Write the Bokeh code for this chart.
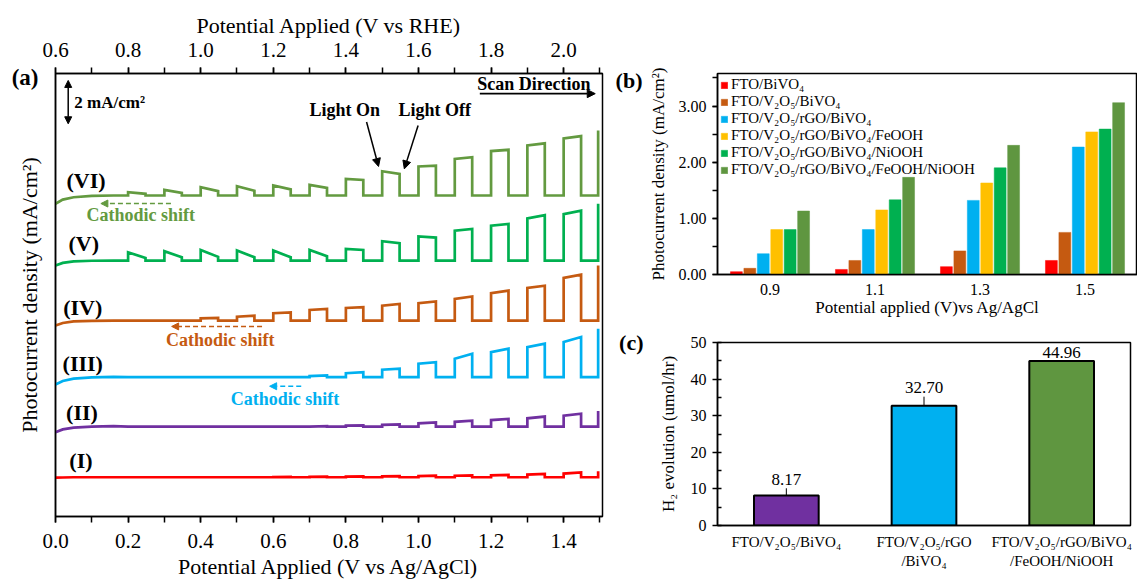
from bokeh.plotting import figure
from bokeh.layouts import row, column
from bokeh.models import (Range1d, LinearAxis, SingleIntervalTicker, FixedTicker,
                          PrintfTickFormatter, Label, Arrow, NormalHead, Legend, LegendItem)
from bokeh.embed import file_html
from bokeh.resources import INLINE
from bokeh.core.properties import value

FONT = "Liberation Serif"

# ---------------- panel (a): chopped LSV traces ----------------
chop_on = [0.2, 0.3, 0.4, 0.5, 0.6, 0.7, 0.8, 0.9, 1.0, 1.1, 1.2, 1.3, 1.4]
chop_len = 0.048
final_x = 1.495
dark_x = [0.0, 0.02, 0.05, 0.10, 0.16]

names_a = ["(I)", "(II)", "(III)", "(IV)", "(V)", "(VI)"]
colors_a = ["#ff0000", "#7030a0", "#00b0f0", "#c55a11", "#00b050", "#639a40"]

dark_I = [1.79, 1.80, 1.81, 1.81, 1.81]
base_I = 1.81
start_I = [0, 0, 0, 0, 0.01, 0.02, 0.03, 0.04, 0.05, 0.07, 0.09, 0.12, 0.17]
end_I = [0, 0, 0, 0, 0.02, 0.03, 0.04, 0.05, 0.07, 0.09, 0.11, 0.15, 0.22]
final_I = 0.28

dark_II = [3.89, 4.02, 4.10, 4.15, 4.17]
base_II = 4.15
start_II = [0, 0, 0, 0, 0, 0, 0.04, 0.08, 0.15, 0.22, 0.30, 0.38, 0.50]
end_II = [0, 0, 0, 0, 0, 0.02, 0.05, 0.10, 0.19, 0.27, 0.35, 0.46, 0.59]
final_II = 0.72

dark_III = [6.09, 6.25, 6.36, 6.42, 6.44]
base_III = 6.43
start_III = [0, 0, 0, 0, 0, 0.05, 0.18, 0.34, 0.62, 0.85, 1.15, 1.38, 1.62]
end_III = [0, 0, 0, 0, 0, 0.08, 0.23, 0.39, 0.69, 1.08, 1.31, 1.54, 1.85]
final_III = 2.23

dark_IV = [8.81, 8.93, 9.00, 9.03, 9.04]
base_IV = 9.04
start_IV = [0, 0, 0.10, 0.18, 0.34, 0.49, 0.58, 0.69, 0.80, 1.00, 1.26, 1.51, 1.97]
end_IV = [0, 0, 0.12, 0.23, 0.38, 0.54, 0.62, 0.77, 0.88, 1.11, 1.38, 1.61, 2.12]
final_IV = 2.54

dark_V = [11.58, 11.70, 11.77, 11.80, 11.81]
base_V = 11.81
start_V = [0.38, 0.43, 0.49, 0.46, 0.46, 0.49, 0.54, 0.89, 1.11, 1.38, 1.61, 1.94, 2.14]
end_V = [0.12, 0.15, 0.17, 0.15, 0.15, 0.20, 0.49, 0.80, 1.06, 1.46, 1.69, 2.09, 2.30]
final_V = 2.62

dark_VI = [14.43, 14.62, 14.73, 14.79, 14.81]
base_VI = 14.81
start_VI = [0.15, 0.26, 0.38, 0.43, 0.46, 0.49, 0.77, 1.12, 1.34, 1.69, 2.05, 2.31, 2.63]
end_VI = [0.08, 0.12, 0.20, 0.22, 0.28, 0.35, 0.72, 1.00, 1.38, 1.77, 2.11, 2.41, 2.74]
final_VI = 3.00

traces = [
    (dark_I, base_I, start_I, end_I, final_I),
    (dark_II, base_II, start_II, end_II, final_II),
    (dark_III, base_III, start_III, end_III, final_III),
    (dark_IV, base_IV, start_IV, end_IV, final_IV),
    (dark_V, base_V, start_V, end_V, final_V),
    (dark_VI, base_VI, start_VI, end_VI, final_VI),
]

# ---------------- panel (b) ----------------
categories_b = ["0.9", "1.1", "1.3", "1.5"]
series_b = ["FTO/BiVO\u2084", "FTO/V\u2082O\u2085/BiVO\u2084", "FTO/V\u2082O\u2085/rGO/BiVO\u2084",
            "FTO/V\u2082O\u2085/rGO/BiVO\u2084/FeOOH", "FTO/V\u2082O\u2085/rGO/BiVO\u2084/NiOOH",
            "FTO/V\u2082O\u2085/rGO/BiVO\u2084/FeOOH/NiOOH"]
colors_b = ["#ff0000", "#c55a11", "#00b0f0", "#ffc000", "#00b050", "#5f9640"]
vals_FTO_BiVO4 = [0.05, 0.09, 0.14, 0.25]
vals_V2O5 = [0.11, 0.25, 0.42, 0.75]
vals_rGO = [0.37, 0.80, 1.32, 2.27]
vals_FeOOH = [0.80, 1.15, 1.63, 2.54]
vals_NiOOH = [0.80, 1.33, 1.90, 2.59]
vals_FeNi = [1.13, 1.73, 2.30, 3.06]
values_b = [vals_FTO_BiVO4, vals_V2O5, vals_rGO, vals_FeOOH, vals_NiOOH, vals_FeNi]

# ---------------- panel (c) ----------------
categories_c = ["FTO/V\u2082O\u2085/BiVO\u2084", "FTO/V\u2082O\u2085/rGO\n/BiVO\u2084",
                "FTO/V\u2082O\u2085/rGO/BiVO\u2084\n/FeOOH/NiOOH"]
h2_values = [8.17, 32.70, 44.96]
h2_errors = [2.0, 2.5, 0.0]
colors_c = ["#7030a0", "#00b0f0", "#5f9640"]


def style_axis(ax, tick_size, label_size):
    ax.axis_line_color = "black"
    ax.axis_line_width = 1.5
    ax.major_tick_line_color = "black"
    ax.minor_tick_line_color = "black"
    ax.major_tick_line_width = 1.5
    ax.minor_tick_line_width = 1.5
    ax.major_tick_in = 0
    ax.minor_tick_in = 0
    ax.major_label_text_font = FONT
    ax.major_label_text_font_size = tick_size
    ax.major_label_text_color = "black"
    ax.axis_label_text_font = FONT
    ax.axis_label_text_font_size = label_size
    ax.axis_label_text_font_style = "normal"
    ax.axis_label_text_color = "black"


def letter_axis(ax, tick, text, standoff, size="22px"):
    # panel letter drawn as the only tick label of a bare axis
    ax.ticker = FixedTicker(ticks=[tick], minor_ticks=[])
    ax.major_label_overrides = {tick: text}
    ax.major_label_text_font = FONT
    ax.major_label_text_font_size = size
    ax.major_label_text_font_style = "bold"
    ax.major_label_text_color = "black"
    ax.major_label_standoff = standoff
    ax.major_tick_out = 0
    ax.major_tick_in = 0
    ax.minor_tick_out = 0
    ax.minor_tick_in = 0
    ax.axis_line_alpha = 0


# ================= figure (a) =================
pa = figure(frame_width=547, frame_height=443, x_range=Range1d(0, 1.507),
            y_range=Range1d(0, 20.44), output_backend="svg", toolbar_location=None,
            min_border_left=55, min_border_right=9, min_border_top=73, min_border_bottom=64)
pa.grid.visible = False
pa.outline_line_color = "black"
pa.outline_line_width = 1.5
pa.outline_line_alpha = 1.0

bx = pa.xaxis[0]
bx.ticker = SingleIntervalTicker(interval=0.2, num_minor_ticks=2)
bx.formatter = PrintfTickFormatter(format="%.1f")
bx.axis_label = "Potential Applied (V vs Ag/AgCl)"
style_axis(bx, "21px", "22px")
bx.major_tick_out = 6
bx.minor_tick_out = 6
bx.major_label_standoff = 11
bx.axis_label_standoff = 3

ly = pa.yaxis[0]
letter_axis(ly, 20.25, "(a)", 17, "23px")
ly.axis_line_alpha = 1
ly.axis_line_color = "black"
ly.axis_line_width = 1.5
ly.axis_label = "Photocurrent density (mA/cm\u00b2)"
ly.axis_label_text_font = FONT
ly.axis_label_text_font_size = "22px"
ly.axis_label_text_font_style = "normal"
ly.axis_label_text_color = "black"
ly.axis_label_standoff = -33

pa.extra_x_ranges = {"rhe": Range1d(0.6, 2.107)}
tx = LinearAxis(x_range_name="rhe", axis_label="Potential Applied (V vs RHE)")
tx.ticker = SingleIntervalTicker(interval=0.2, num_minor_ticks=2)
tx.formatter = PrintfTickFormatter(format="%.1f")
style_axis(tx, "21px", "22px")
tx.major_tick_out = 6
tx.minor_tick_out = 6
tx.major_label_standoff = 11
tx.axis_label_standoff = 2
pa.add_layout(tx, "above")

for (dark, base, st, en, fin), col in zip(traces, colors_a):
    xs = list(dark_x)
    ys = list(dark)
    for c, hs, he in zip(chop_on, st, en):
        xs += [c, c, c + chop_len, c + chop_len]
        ys += [base, base + hs, base + he, base]
    xs += [final_x, final_x]
    ys += [base, base + fin]
    pa.line(xs, ys, line_color=col, line_width=2.7, line_join="miter")


def add_label(p, x, y, text, size, color="black", bold=True, align="center"):
    p.add_layout(Label(x=x, y=y, text=text, text_font=FONT, text_font_size=size,
                       text_font_style="bold" if bold else "normal", text_color=color,
                       text_align=align, text_baseline="middle"))


label_pos = [(0.070, 2.58), (0.073, 4.81), (0.075, 7.05), (0.075, 9.66), (0.078, 12.58), (0.084, 15.51)]
for (lx, lyy), name in zip(label_pos, names_a):
    add_label(pa, lx, lyy, name, "22px")

# scale bar
pa.add_layout(Arrow(x_start=0.035, y_start=18.12, x_end=0.035, y_end=20.12,
                    start=NormalHead(size=7, fill_color="black", line_color="black"),
                    end=NormalHead(size=7, fill_color="black", line_color="black"),
                    line_color="black", line_width=1.5))
add_label(pa, 0.052, 19.1, "2 mA/cm\u00b2", "17px", align="left")

# scan direction
add_label(pa, 1.318, 19.94, "Scan Direction", "18px")
pa.add_layout(Arrow(x_start=1.169, y_start=19.51, x_end=1.487, y_end=19.51,
                    end=NormalHead(size=8, fill_color="black", line_color="black"),
                    line_color="black", line_width=1.8))

# light on / off
add_label(pa, 0.797, 18.77, "Light On", "18px")
add_label(pa, 1.045, 18.74, "Light Off", "18px")
pa.add_layout(Arrow(x_start=0.857, y_start=18.2, x_end=0.890, y_end=16.15,
                    end=NormalHead(size=8, fill_color="black", line_color="black"),
                    line_color="black", line_width=1.5))
pa.add_layout(Arrow(x_start=0.999, y_start=18.04, x_end=0.961, y_end=16.04,
                    end=NormalHead(size=8, fill_color="black", line_color="black"),
                    line_color="black", line_width=1.5))

# cathodic shifts
shifts = [((0.318, 0.125, 14.44), (0.235, 13.89), "#639a40"),
          ((0.569, 0.320, 8.77), (0.454, 8.15), "#c55a11"),
          ((0.677, 0.590, 6.01), (0.632, 5.43), "#00b0f0")]
for (xa, xb, ya), (tx_, ty_), col in shifts:
    pa.add_layout(Arrow(x_start=xa, y_start=ya, x_end=xb, y_end=ya,
                        end=NormalHead(size=7, fill_color=col, line_color=col),
                        line_color=col, line_width=1.5, line_dash="5 3"))
    add_label(pa, tx_, ty_, "Cathodic shift", "18px", color=col)

# ================= figure (b) =================
pb = figure(frame_width=420, frame_height=201, x_range=Range1d(-0.5, 3.5),
            y_range=Range1d(0, 3.58), output_backend="svg", toolbar_location=None,
            min_border_left=106, min_border_right=0, min_border_top=73, min_border_bottom=44)
pb.grid.visible = False
pb.outline_line_color = "black"
pb.outline_line_width = 1.5
pb.outline_line_alpha = 1.0

renderers_b = []
for k, (vals, col) in enumerate(zip(values_b, colors_b)):
    xs = [i + (k - 2.5) * 0.128 for i in range(len(categories_b))]
    r = pb.vbar(x=xs, top=vals, width=0.113, fill_color=col, line_color=col, line_width=0.5)
    renderers_b.append(r)

legend = Legend(items=[LegendItem(label=n, renderers=[r]) for n, r in zip(series_b, renderers_b)],
                location="top_left")
legend.label_text_font = FONT
legend.label_text_font_size = "15px"
legend.label_text_color = "black"
legend.glyph_width = 8
legend.glyph_height = 8
legend.label_height = 15
legend.label_standoff = 3
legend.spacing = 0
legend.padding = 2
legend.margin = 1
legend.border_line_alpha = 0
legend.background_fill_alpha = 0
pb.add_layout(legend)

xb = pb.xaxis[0]
xb.ticker = FixedTicker(ticks=list(range(len(categories_b))))
xb.major_label_overrides = {i: c for i, c in enumerate(categories_b)}
xb.axis_label = "Potential applied (V)vs Ag/AgCl"
style_axis(xb, "16px", "17px")
xb.major_tick_out = 0
xb.minor_tick_out = 0
xb.major_label_standoff = 9
xb.axis_label_standoff = 0

yb = pb.yaxis[0]
yb.ticker = SingleIntervalTicker(interval=1, num_minor_ticks=2)
yb.formatter = PrintfTickFormatter(format="%.2f")
yb.axis_label = "Photocurrent density (mA/cm\u00b2)"
style_axis(yb, "16px", "17px")
yb.major_tick_out = 5
yb.minor_tick_out = 5
yb.major_label_standoff = 6
yb.axis_label_standoff = 8

yb2 = LinearAxis()
letter_axis(yb2, 3.45, "(b)", 3)
pb.add_layout(yb2, "left")

# ================= figure (c) =================
pc = figure(frame_width=413, frame_height=183, x_range=Range1d(-0.5, 2.5),
            y_range=Range1d(0, 50), output_backend="svg", toolbar_location=None,
            min_border_left=106, min_border_right=7, min_border_top=23, min_border_bottom=56)
pc.grid.visible = False
pc.outline_line_color = "black"
pc.outline_line_width = 1.5
pc.outline_line_alpha = 1.0

xc = list(range(len(categories_c)))
pc.vbar(x=xc, top=h2_values, width=0.47, fill_color=colors_c, line_color="black", line_width=2)
err_x = [x for x, e in zip(xc, h2_errors) if e > 0]
err_y0 = [v for v, e in zip(h2_values, h2_errors) if e > 0]
err_y1 = [v + e for v, e in zip(h2_values, h2_errors) if e > 0]
pc.segment(x0=err_x, y0=err_y0, x1=err_x, y1=err_y1, line_color="black", line_width=1)
pc.text(x=xc, y=[v + e + 0.9 for v, e in zip(h2_values, h2_errors)],
        text=["%.2f" % v for v in h2_values], text_font=value(FONT), text_font_size="17px",
        text_align="center", text_baseline="bottom", text_color="black")

xcx = pc.xaxis[0]
xcx.ticker = FixedTicker(ticks=xc)
xcx.major_label_overrides = {i: c for i, c in enumerate(categories_c)}
style_axis(xcx, "15px", "15px")
xcx.major_tick_out = 0
xcx.minor_tick_out = 0
xcx.major_label_standoff = 8

ycx = pc.yaxis[0]
ycx.ticker = SingleIntervalTicker(interval=10, num_minor_ticks=2)
ycx.axis_label = "H\u2082 evolution (umol/hr)"
style_axis(ycx, "16px", "17px")
ycx.major_tick_out = 5
ycx.minor_tick_out = 0
ycx.minor_tick_in = 4
ycx.major_label_standoff = 6
ycx.axis_label_standoff = 10

yc2 = LinearAxis()
letter_axis(yc2, 49.9, "(c)", 12)
pc.add_layout(yc2, "left")

layout = row(pa, column(pb, pc))
open("out.html", "w").write(file_html(layout, INLINE))
